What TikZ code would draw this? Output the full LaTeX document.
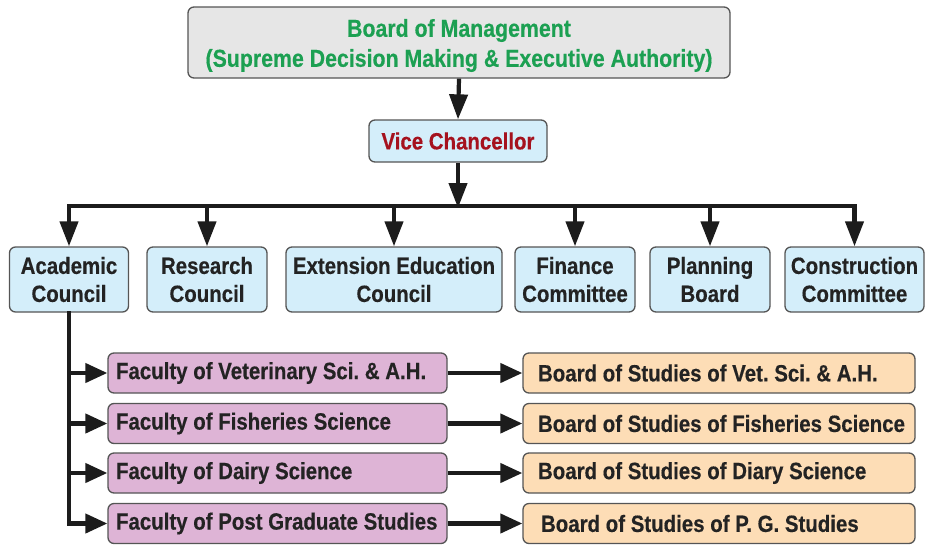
\documentclass[tikz,border=0pt]{standalone}
\usepackage{fontspec}
\setmainfont{Liberation Sans}[FakeStretch=0.87,FakeBold=0.4]
\usetikzlibrary{arrows.meta}
\frenchspacing
\definecolor{bomgreen}{RGB}{28,160,82}
\definecolor{vcred}{RGB}{165,18,30}
\definecolor{bomfill}{RGB}{230,230,230}
\definecolor{bluefill}{RGB}{212,238,250}
\definecolor{mauvefill}{RGB}{222,180,214}
\definecolor{peachfill}{RGB}{253,221,182}
\definecolor{boxedge}{RGB}{85,85,85}
\definecolor{conncol}{RGB}{28,28,28}
\definecolor{txtcol}{RGB}{35,35,35}
\begin{document}
\begin{tikzpicture}[x=1pt,y=-1pt,
  box/.style={draw=boxedge, line width=1.3pt, rounded corners=6pt, inner sep=0pt,
    align=center, text=txtcol, font=\bfseries\fontsize{23.5}{28}\selectfont},
  topbox/.style={box, fill=bomfill},
  toptext/.style={inner sep=0pt, align=center, text=bomgreen, font=\bfseries\fontsize{24.5}{30}\selectfont},
  vcbox/.style={box, fill=bluefill, text=vcred},
  council/.style={box, fill=bluefill, minimum height=65pt},
  facbox/.style={box, fill=mauvefill, minimum height=40pt, inner xsep=8pt},
  bosbox/.style={box, fill=peachfill, minimum height=40pt, inner xsep=15pt},
  conn/.style={line width=4.2pt, draw=conncol},
  arr/.style={conn, -{Triangle[length=25pt,width=18pt]}},
  harr/.style={conn, -{Triangle[length=22pt,width=19pt]}},
]
\useasboundingbox (0,0) rectangle (928,544);

\node[topbox, minimum width=542pt, minimum height=71pt] (bom) at (459,42.5) {};
\node[toptext] (bomtext) at (459,45.5)
  {Board of Management\\(Supreme Decision Making \& Executive Authority)};
\node[vcbox, minimum width=178pt, minimum height=42pt] (vc) at (458,141) {Vice Chancellor};

\node[council, minimum width=119pt] (acad) at (69,279.5) {Academic\\Council};
\node[council, minimum width=120pt] (res) at (207,279.5) {Research\\Council};
\node[council, minimum width=216pt] (ext) at (394,279.5) {Extension Education\\Council};
\node[council, minimum width=120pt] (fin) at (575,279.5) {Finance\\Committee};
\node[council, minimum width=120pt] (plan) at (710,279.5) {Planning\\Board};
\node[council, minimum width=139pt] (cons) at (854.5,279.5) {Construction\\Committee};

\node[facbox] (fvet) at (277.5,373) {\makebox[323pt][l]{Faculty of Veterinary Sci. \& A.H.}};
\node[facbox] (ffish) at (277.5,423.5) {\makebox[323pt][l]{Faculty of Fisheries Science}};
\node[facbox] (fdairy) at (277.5,473) {\makebox[323pt][l]{Faculty of Dairy Science}};
\node[facbox] (fpg) at (277.5,523.5) {\makebox[323pt][l]{Faculty of Post Graduate Studies}};

\node[bosbox] (bvet) at (719,373) {\makebox[362pt][l]{Board of Studies of Vet. Sci. \& A.H.}};
\node[bosbox] (bfish) at (719,423.5) {\makebox[362pt][l]{Board of Studies of Fisheries Science}};
\node[bosbox] (bdairy) at (719,473) {\makebox[362pt][l]{Board of Studies of Diary Science}};
\node[bosbox] (bpg) at (719,523.5) {\makebox[362pt][l]{\hspace{3pt}Board of Studies of P. G. Studies}};

\coordinate (barY) at (0,206);
\draw[arr] (bom.south) -- (vc.north);
\draw[conn, line cap=rect] (acad.north |- barY) -- (cons.north |- barY);
\draw[arr] (vc.south) -- ([yshift=-2pt]vc.south |- barY);
\foreach \n in {acad,res,ext,fin,plan,cons}
  \draw[arr] (\n.north |- barY) -- (\n.north);

\draw[conn, line cap=rect] (acad.south) -- (acad.south |- fpg.west);
\foreach \f/\b in {fvet/bvet,ffish/bfish,fdairy/bdairy,fpg/bpg}{
  \draw[harr] (acad.south |- \f.west) -- (\f.west);
  \draw[harr] (\f.east) -- (\b.west);
}
\end{tikzpicture}
\end{document}
